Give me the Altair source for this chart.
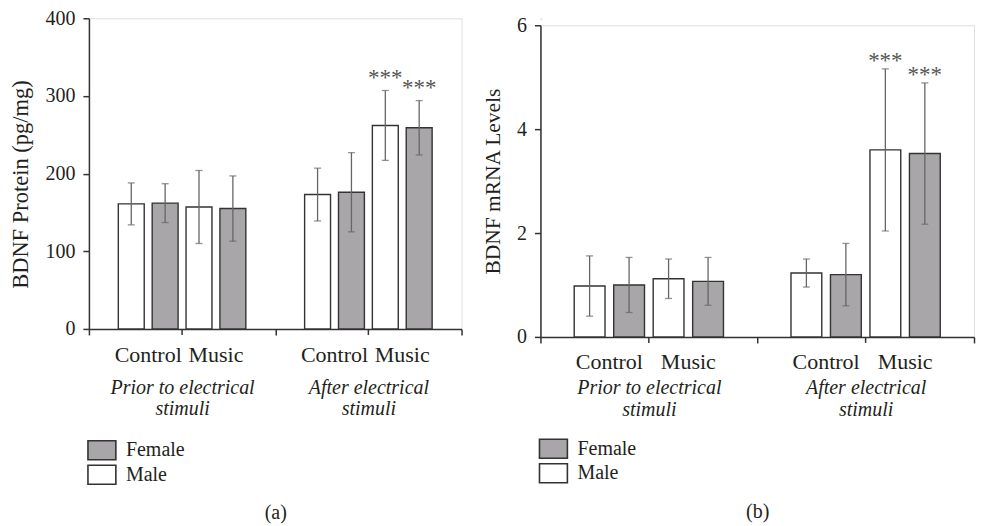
import altair as alt
import pandas as pd

# ---------------- data ----------------
groups = ["Prior to electrical|stimuli", "After electrical|stimuli"]
conditions = ["Control", "Music"]
sexes = ["Male", "Female"]
slots = [f"{c}-{s}" for c in conditions for s in sexes]

protein_mean = [161, 162, 157, 155, 173, 176, 262, 259]
protein_err = [27, 25, 47, 42, 34, 51, 45, 35]
mrna_mean = [0.98, 1.00, 1.12, 1.07, 1.23, 1.20, 3.60, 3.53]
mrna_err = [0.58, 0.53, 0.38, 0.46, 0.27, 0.60, 1.56, 1.36]
signif = ["", "", "", "", "", "", "***", "***"]

FONT = "Liberation Serif"
TXT = "#231f20"
GRAY = "#a8a6a9"
ERR = "#666666"
AX = "#333333"


def build_df(mean, err):
    rows = []
    i = 0
    for g in groups:
        for c in conditions:
            for s in sexes:
                rows.append(dict(group=g, cond=c, sex=s, slot=f"{c}-{s}",
                                 mean=mean[i], lo=mean[i] - err[i], hi=mean[i] + err[i],
                                 sig=signif[i]))
                i += 1
    return pd.DataFrame(rows)


def panel(mean, err, ymax, ystep, ytitle, caption, width, height,
          pin, pout, label_pad, line_h, title_pad, ctl_dy, legend_y, star_dy,
          ytitle_size, ytitle_y=None):
    df = build_df(mean, err)
    band = width / 2
    step = band / (4 - pin + 2 * pout)

    xscale = alt.Scale(type="band", domain=groups, paddingInner=0, paddingOuter=0)
    oscale = alt.Scale(type="band", domain=slots, paddingInner=pin, paddingOuter=pout)
    yscale = alt.Scale(domain=[0, ymax], nice=False)

    xaxis = alt.Axis(
        title=caption, titleFont=FONT, titleFontSize=20, titleFontWeight="normal",
        titleColor=TXT, titlePadding=title_pad,
        labelExpr="split(datum.label, '|')", labelFont=FONT, labelFontSize=20,
        labelFontStyle="italic", labelColor=TXT, labelLineHeight=line_h,
        labelPadding=label_pad, labelLimit=400, labelAngle=0,
        tickBand="extent", tickColor=AX, tickWidth=1.5, tickSize=6,
        domainColor=AX, domainWidth=1.5,
    )
    yargs = dict(
        title=ytitle, titleFont=FONT, titleFontSize=ytitle_size, titleFontWeight="normal",
        titleColor=TXT, titlePadding=12,
        values=list(range(0, ymax + 1, ystep)), labelFont=FONT, labelFontSize=20,
        labelColor=TXT, labelPadding=8, tickColor=AX, tickWidth=1.5, tickSize=6,
        domainColor=AX, domainWidth=1.5, grid=False,
    )
    if ytitle_y is not None:
        yargs["titleY"] = ytitle_y
    yaxis = alt.Axis(**yargs)

    X = alt.X("group:N", sort=groups, scale=xscale)
    XO = alt.XOffset("slot:N", sort=slots, scale=oscale)

    base = alt.Chart(df)
    bars = base.mark_bar(stroke=AX, strokeWidth=1.4).encode(
        x=alt.X("group:N", sort=groups, scale=xscale, axis=xaxis),
        xOffset=XO,
        y=alt.Y("mean:Q", scale=yscale, axis=yaxis),
        fill=alt.Fill("sex:N", scale=alt.Scale(domain=["Female", "Male"], range=[GRAY, "white"]),
                      legend=alt.Legend(
                          title=None, orient="none", legendX=2.5, legendY=legend_y,
                          symbolType="M-1.47,-1H1.47V1H-1.47Z", symbolSize=361,
                          symbolStrokeColor=AX, symbolStrokeWidth=1.6,
                          labelFont=FONT, labelFontSize=20, labelColor=TXT,
                          labelOffset=13.5, rowPadding=-2.5)),
    )
    ycommon = dict(scale=yscale, axis=yaxis)
    rules = base.mark_rule(color=ERR, strokeWidth=1.3).encode(
        x=X, xOffset=XO, y=alt.Y("lo:Q", **ycommon), y2="hi:Q")
    cap_lo = base.mark_tick(color=ERR, thickness=1.3, size=7, orient="horizontal").encode(
        x=X, xOffset=XO, y=alt.Y("lo:Q", **ycommon))
    cap_hi = base.mark_tick(color=ERR, thickness=1.3, size=7, orient="horizontal").encode(
        x=X, xOffset=XO, y=alt.Y("hi:Q", **ycommon))
    stars = base.transform_filter("datum.sig != ''").mark_text(
        font=FONT, fontSize=23, color="#555555", baseline="alphabetic", dy=star_dy).encode(
        x=X, xOffset=XO, y=alt.Y("hi:Q", **ycommon), text="sig:N")

    gdf = pd.DataFrame({"group": groups})
    mid = alt.Chart(gdf).mark_rule(color=AX, strokeWidth=1.5).encode(
        x=alt.X("group:N", sort=groups, scale=xscale, bandPosition=0.5),
        y=alt.value(height), y2=alt.value(height + 6))

    cdf = pd.DataFrame([{"group": g, "cond": c} for g in groups for c in conditions])
    ctl = alt.Chart(cdf).transform_filter("datum.cond == 'Control'").mark_text(
        font=FONT, fontSize=22, color=TXT, baseline="middle", dx=-step).encode(
        x=X, y=alt.value(height + ctl_dy), text="cond:N")
    mus = alt.Chart(cdf).transform_filter("datum.cond == 'Music'").mark_text(
        font=FONT, fontSize=22, color=TXT, baseline="middle", dx=step).encode(
        x=X, y=alt.value(height + ctl_dy), text="cond:N")

    return alt.layer(bars, rules, cap_lo, cap_hi, stars, mid, ctl, mus).properties(
        width=width, height=height)


pa = panel(protein_mean, protein_err, 400, 100, "BDNF Protein (pg/mg)", "(a)",
           373, 311, 0.235, 0.868, 43, 21, 84, 26, 422, -5.5, 22.5, 166)
pb = panel(mrna_mean, mrna_err, 6, 2, "BDNF mRNA Levels", "(b)",
           434, 312, 0.22, 0.855, 35, 22, 81.5, 25, 420.5, -1, 21.5)

spacer = alt.Chart(pd.DataFrame({"v": [0]})).mark_point(opacity=0).encode(
    x=alt.value(0), y=alt.value(0)).properties(width=1, height=1)
right = alt.vconcat(spacer, pb, spacing=6, bounds="flush")

chart = alt.hconcat(pa, right, spacing=18).resolve_scale(
    fill="independent", x="independent", y="independent", xOffset="independent"
).resolve_legend(fill="independent").properties(
    padding={"left": 1, "top": -1, "right": 0, "bottom": 0}
).configure_view(strokeWidth=0).configure(background="white")

chart.save("out.html", embed_options={"renderer": "svg", "actions": False})
